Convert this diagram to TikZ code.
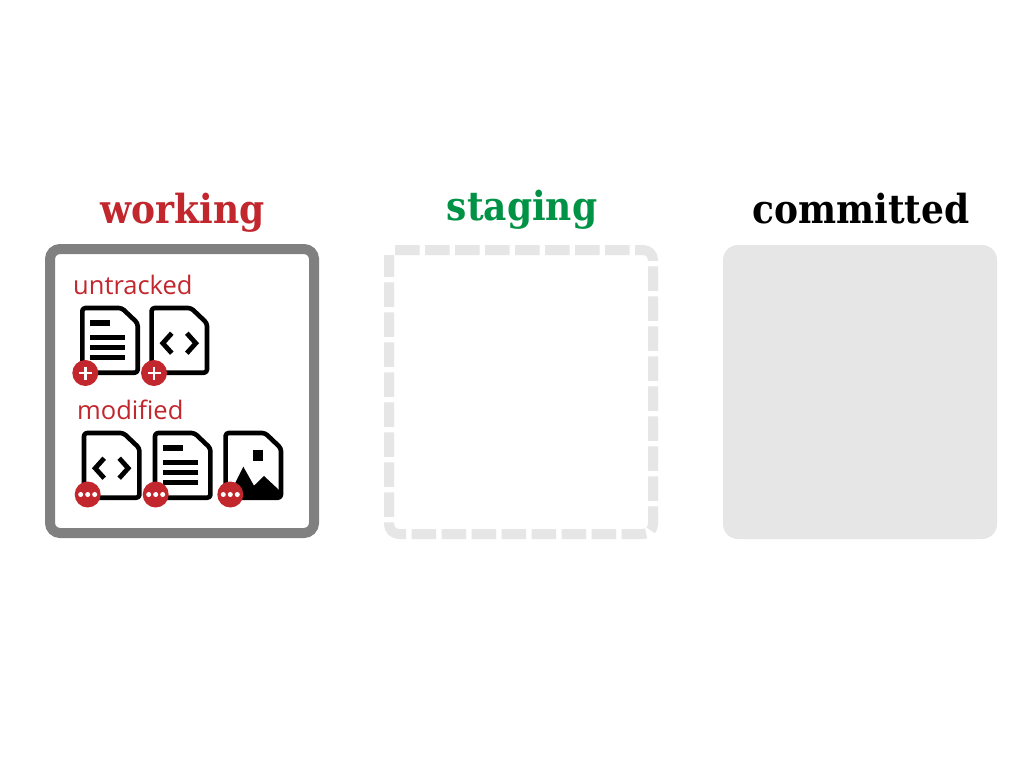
\documentclass[tikz,border=0pt]{standalone}
\usepackage{fontspec}
\setmainfont{Open Sans}
\newfontfamily\slabfont{DejaVu Serif Condensed}
\definecolor{cred}{HTML}{C1272D}
\definecolor{cgreen}{HTML}{009245}
\definecolor{cgrey}{HTML}{808080}
\definecolor{clight}{HTML}{E6E6E6}
\tikzset{
  x=1pt,y=-1pt,
  title/.style={anchor=base,inner sep=0pt,font=\slabfont\bfseries\fontsize{40}{40}\selectfont},
  label/.style={anchor=base west,inner sep=0pt,text=cred,font=\fontsize{25.5}{25.5}\selectfont},
  pics/docshape/.style={code={
    \draw[line width=4.6pt,black,fill=white,rounded corners=3pt,line join=round]
      (2.3,2.3) -- (41.7,2.3) -- (57.7,17.5) -- (57.7,67) -- (2.3,67) -- cycle;
  }},
  pics/textdoc/.style={code={
    \pic {docshape};
    \fill (10,14.3) rectangle (30,19.9);
    \foreach \yy in {32,42,52} {\fill (10,\yy-2.6) rectangle (45,\yy+2.6);}
  }},
  pics/codedoc/.style={code={
    \pic {docshape};
    \draw[line width=4.8pt,miter limit=10] (22.5,27.5) -- (13.5,37.5) -- (22.5,47.5);
    \draw[line width=4.8pt,miter limit=10] (37.5,27.5) -- (46.5,37.5) -- (37.5,47.5);
  }},
  pics/imagedoc/.style={code={
    \pic {docshape};
    \fill (30,19.3) rectangle (40,30);
    \fill (4,68) -- (20,36) -- (30.7,55) -- (40.7,45.3) -- (57,60.5) -- (57,68) -- cycle;
  }},
  pics/plusbadge/.style={code={
    \fill[cred] (0,0) circle (13);
    \draw[white,line width=2.8pt] (-6.5,0) -- (6.5,0) (0,-6.5) -- (0,6.5);
  }},
  pics/dotsbadge/.style={code={
    \fill[cred] (0,0) circle (13);
    \foreach \xx in {-7,0,7} {\fill[white] (\xx,0) circle (2.5);}
  }}
}
\begin{document}
\begin{tikzpicture}
\useasboundingbox (0,0) rectangle (1024,768);
\fill[white] (0,0) rectangle (1024,768);

\draw[cgrey,line width=10pt,rounded corners=10pt] (50,249) rectangle (314,533);
\draw[clight,line width=10pt,rounded corners=10pt,dash pattern=on 24.5pt off 5.5pt]
  (395,250) -- (653,250) -- (653,534) -- (389,534) -- (389,255);
\fill[clight,rounded corners=15pt] (723,245) rectangle (997,539);

\node[title,text=cred] (working) at (182.5,223) {working};
\node[title,text=cgreen] (staging) at (522,220) {staging};
\node[title,text=black] (committed) at (861,223) {committed};
\node[label] (untracked) at (73,294.3) {untracked};
\node[label] (modified) at (77,419.3) {modified};

\pic at (80,305.7) {textdoc};
\pic at (149.3,305.7) {codedoc};
\pic at (81.7,430.7) {codedoc};
\pic at (152.7,430.7) {textdoc};
\pic at (223.3,430.7) {imagedoc};

\pic at (85.3,373) {plusbadge};
\pic at (154,373) {plusbadge};
\pic at (87.7,494.5) {dotsbadge};
\pic at (155.7,494.5) {dotsbadge};
\pic at (230.3,494.5) {dotsbadge};
\end{tikzpicture}
\end{document}
